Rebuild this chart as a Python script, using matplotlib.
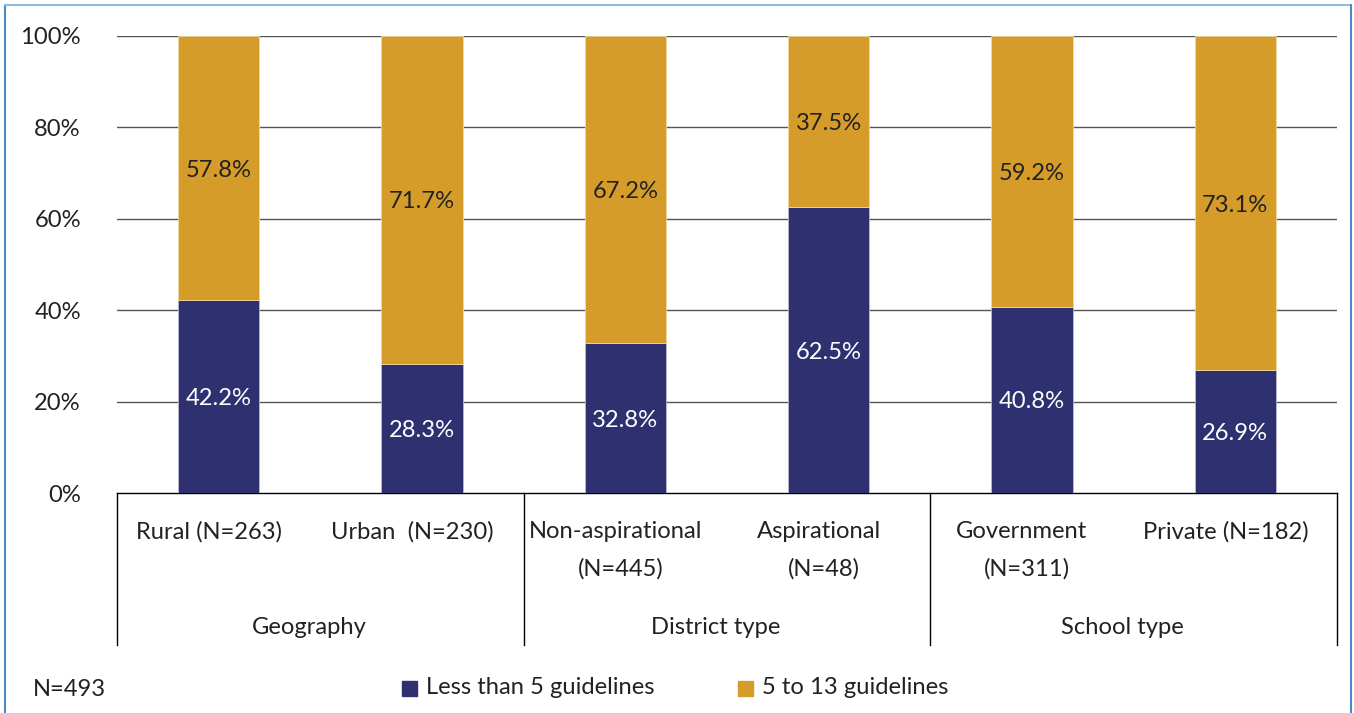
import numpy as np
import matplotlib.pyplot as plt
from matplotlib.patches import Rectangle
from matplotlib.lines import Line2D

plt.rcParams['font.family'] = ['Lato', 'DejaVu Sans']

categories = ['Rural (N=263)', 'Urban  (N=230)', 'Non-aspirational\n(N=445)',
              'Aspirational\n(N=48)', 'Government\n(N=311)', 'Private (N=182)']
groups = ['Geography', 'District type', 'School type']
less_than_5 = [42.2, 28.3, 32.8, 62.5, 40.8, 26.9]
five_to_13 = [57.8, 71.7, 67.2, 37.5, 59.2, 73.1]

navy = '#2e3070'
gold = '#d69c2a'
txt = '#222222'
fs = 17.1

W, H = 1354, 713
fig = plt.figure(figsize=(W / 100, H / 100), dpi=100)

# plot area in pixel coordinates
left, right, top, bottom = 117, 1337, 36, 493
ax = fig.add_axes([left / W, 1 - bottom / H, (right - left) / W, (bottom - top) / H])

x = np.arange(len(categories))
ax.bar(x, less_than_5, width=0.4, color=navy, edgecolor='#b8b8d0', linewidth=0.6, zorder=3)
ax.bar(x, five_to_13, width=0.4, bottom=less_than_5, color=gold, edgecolor='#f0d8a0',
       linewidth=0.6, zorder=3)

for i in range(len(x)):
    ax.text(x[i], less_than_5[i] / 2, f'{less_than_5[i]:.1f}%', ha='center',
            va='center_baseline', color='white', fontsize=fs, zorder=4)
    ax.text(x[i], less_than_5[i] + five_to_13[i] / 2, f'{five_to_13[i]:.1f}%', ha='center',
            va='center_baseline', color=txt, fontsize=fs, zorder=4)

ax.set_xlim(-0.5, len(x) - 0.5)
ax.set_ylim(0, 100)
ax.set_yticks(np.arange(0, 101, 20))
ax.set_yticklabels([f'{v}%' for v in range(0, 101, 20)], fontsize=fs, color=txt)
ax.tick_params(axis='y', length=0, pad=26)
ax.set_xticks([])
for v in range(20, 101, 20):
    ax.axhline(v, color='#555555', linewidth=1, zorder=1)
for s in ['top', 'left', 'right']:
    ax.spines[s].set_visible(False)
ax.spines['bottom'].set_color('black')
ax.spines['bottom'].set_linewidth(1)

# category axis below the plot: two-level labels with dividers
def px(xp, yp):
    return xp / W, 1 - yp / H

slot = (right - left) / len(categories)
for i, c in enumerate(categories):
    cx = left + slot * (i + 0.5)
    for k, line in enumerate(c.split('\n')):
        fig.text(*px(cx - 10 + 5 * k, 532 + 37 * k), line, ha='center', va='center',
                 fontsize=fs, color=txt)
for g, name in enumerate(groups):
    cx = left + slot * (2 * g + 1) - 11
    fig.text(*px(cx, 627), name, ha='center', va='center', fontsize=fs, color=txt)
for g in range(len(groups) + 1):
    xd = left + slot * 2 * g
    fig.add_artist(Line2D([xd / W, xd / W], [1 - bottom / H, 1 - 645 / H], color='black', linewidth=1))

# footer note and legend
fig.text(*px(33, 689), 'N=493', ha='left', va='center', fontsize=fs, color=txt)
fig.add_artist(Rectangle(px(402, 696), 15 / W, 15 / H, color=navy))
fig.text(*px(426, 688), 'Less than 5 guidelines', ha='left', va='center', fontsize=fs, color=txt)
fig.add_artist(Rectangle(px(738, 696), 15 / W, 15 / H, color=gold))
fig.text(*px(762, 688), '5 to 13 guidelines', ha='left', va='center', fontsize=fs, color=txt)

# outer frame
fig.add_artist(Line2D([5 / W, 5 / W], [0, 1 - 5 / H], color='#4a8ac8', linewidth=1.5))
fig.add_artist(Line2D([5 / W, 1351 / W], [1 - 5 / H, 1 - 5 / H], color='#8cbde3', linewidth=1.5))
fig.add_artist(Line2D([1351 / W, 1351 / W], [0, 1 - 5 / H], color='#4a8ac8', linewidth=1.5))

fig.savefig('out.png', dpi=100)
